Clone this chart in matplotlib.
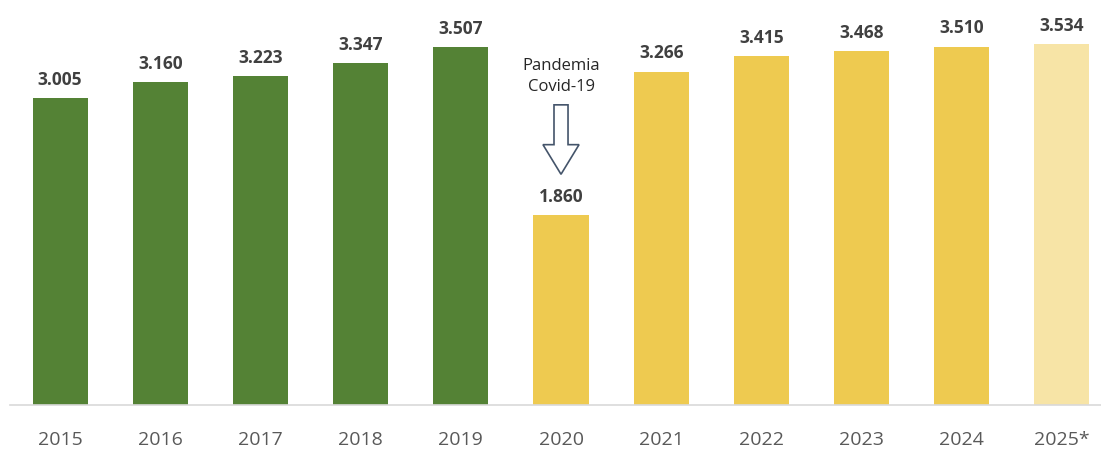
import numpy as np
import matplotlib.pyplot as plt
from matplotlib.patches import FancyArrow

years = ['2015', '2016', '2017', '2018', '2019', '2020', '2021', '2022', '2023', '2024', '2025*']
values = [3005, 3160, 3223, 3347, 3507, 1860, 3266, 3415, 3468, 3510, 3534]
labels = ['3.005', '3.160', '3.223', '3.347', '3.507', '1.860', '3.266', '3.415', '3.468', '3.510', '3.534']

green = '#548235'
yellow = '#EECA50'
light = '#F7E4A6'
colors = [green]*5 + [yellow]*5 + [light]

plt.rcParams['font.family'] = ['Open Sans', 'DejaVu Sans']

fig = plt.figure(figsize=(11.01, 4.49), dpi=100)
ax = fig.add_axes([10/1101, 44/449, 1091/1101, 405/449])

x = np.arange(len(years))
ax.bar(x, values, width=0.55, color=colors)

for xi, v, lab in zip(x, values, labels):
    ax.text(xi, v + 90, lab, ha='center', va='bottom', fontsize=12.5,
            fontweight='bold', color='#404040')

ax.set_xlim(-0.5, 10.39)
ax.set_ylim(0, 3967)
ax.set_xticks(x)
ax.set_xticklabels(years, fontsize=14, color='#595959')
ax.tick_params(axis='x', length=0, pad=19)
ax.set_yticks([])
for s in ['top', 'right', 'left']:
    ax.spines[s].set_visible(False)
ax.spines['bottom'].set_color('#D9D9D9')
ax.spines['bottom'].set_linewidth(1.2)

# Covid annotation
ax.text(5, 3220, 'Pandemia\nCovid-19', ha='center', va='center', fontsize=12,
        color='#262626', linespacing=1.45)
arrow = FancyArrow(5, 2940, 0, -680, width=0.14, head_width=0.36, head_length=290,
                   length_includes_head=True, facecolor='white', edgecolor='#44546A',
                   linewidth=1.2)
ax.add_patch(arrow)

fig.savefig('out.png', dpi=100)
